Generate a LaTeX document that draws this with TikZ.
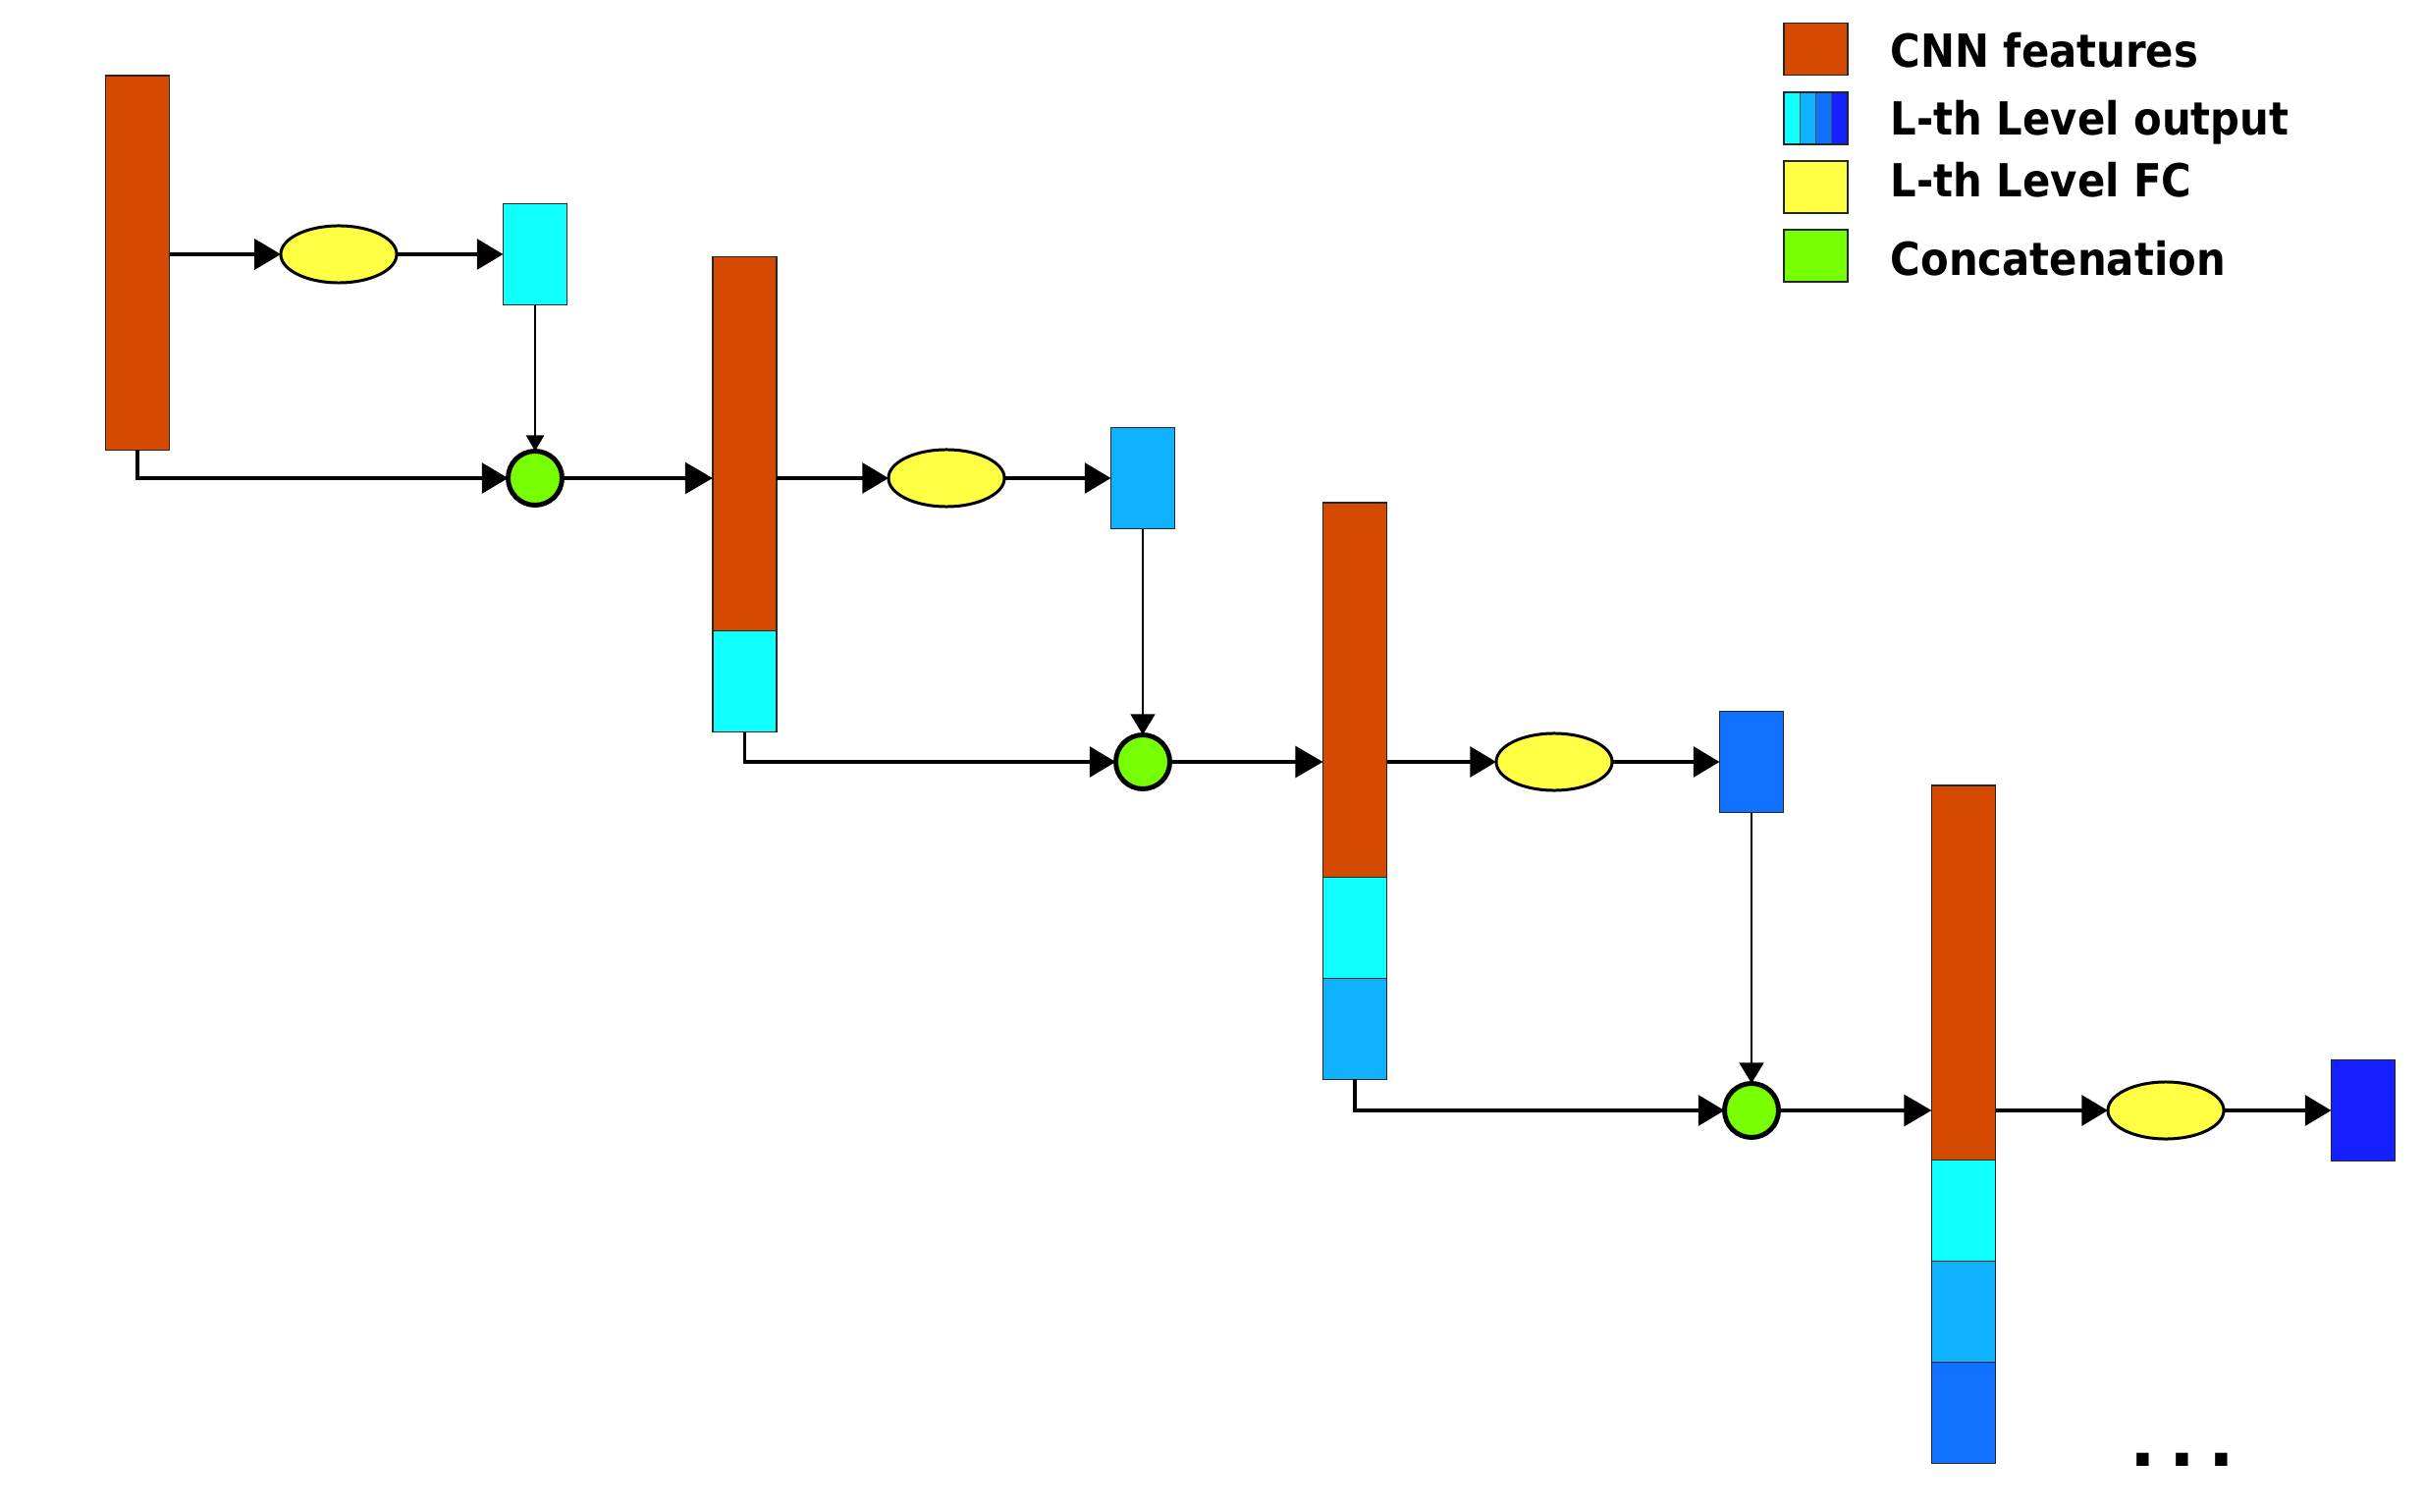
\documentclass[tikz,border=0pt]{standalone}
\usepackage{fontspec}
\newfontfamily\legfont{DejaVu Sans}[FakeStretch=0.9]
\newfontfamily\dotfont{DejaVu Sans}
\usetikzlibrary{arrows.meta,shapes.geometric}
\definecolor{orangeC}{HTML}{D34A00}
\definecolor{cyanC}{HTML}{10FFFF}
\definecolor{lblueC}{HTML}{10B2FF}
\definecolor{mblueC}{HTML}{1070FF}
\definecolor{dblueC}{HTML}{1420FF}
\definecolor{yellowC}{HTML}{FFFF44}
\definecolor{greenC}{HTML}{75FF00}
\tikzset{
  blk/.style={draw=black!85, line width=0.35pt, inner sep=0pt, outer sep=0pt, minimum width=0.65cm},
  feat/.style={blk, fill=orangeC, minimum height=3.81cm},
  seg/.style={blk, minimum height=1.03cm},
  fc/.style={ellipse, draw=black, line width=0.85pt, fill=yellowC, minimum width=1.18cm, minimum height=0.58cm, inner sep=0pt, outer sep=0pt},
  cat/.style={circle, draw=black, line width=1.4pt, fill=greenC, minimum size=0.55cm, inner sep=0pt, outer sep=0pt},
  harrow/.style={line width=1pt, -{Triangle[length=7.6pt,width=8.8pt]}},
  carrow/.style={line width=1.15pt, -{Triangle[length=8pt,width=9pt]}},
  varrowA/.style={line width=0.65pt, -{Triangle[length=4.6pt,width=5.2pt]}},
  varrow/.style={line width=0.8pt, -{Triangle[length=6pt,width=7pt]}},
  legbox/.style={draw=black!85, line width=0.35pt, inner sep=0pt, outer sep=0pt, minimum width=0.65cm, minimum height=0.53cm},
  legtext/.style={anchor=base west, inner sep=0pt, font=\fontsize{13.2pt}{15pt}\selectfont\legfont\bfseries},
}
\begin{document}
\begin{tikzpicture}[x=0.01cm, y=-0.01cm]
\useasboundingbox (0,0) rectangle (2470,1540);
% ---------- level 1
\node[feat, anchor=north] (b1) at (140,77) {};
\node[fc] (e1) at (345,259) {};
\node[seg, fill=cyanC] (o1) at (545,259) {};
\node[cat] (c1) at (545,487) {};
% ---------- level 2
\node[feat, anchor=north] (b2) at (758.5,261.5) {};
\node[seg, fill=cyanC, anchor=north] (b2c) at (b2.south) {};
\node[fc] (e2) at (964,487) {};
\node[seg, fill=lblueC] (o2) at (1164,487) {};
\node[cat] (c2) at (1164,776) {};
% ---------- level 3
\node[feat, anchor=north] (b3) at (1380,512) {};
\node[seg, fill=cyanC, anchor=north] (b3c) at (b3.south) {};
\node[seg, fill=lblueC, anchor=north] (b3l) at (b3c.south) {};
\node[fc] (e3) at (1583,776) {};
\node[seg, fill=mblueC] (o3) at (1784,776) {};
\node[cat] (c3) at (1784,1131) {};
% ---------- level 4
\node[feat, anchor=north] (b4) at (2000,800) {};
\node[seg, fill=cyanC, anchor=north] (b4c) at (b4.south) {};
\node[seg, fill=lblueC, anchor=north] (b4l) at (b4c.south) {};
\node[seg, fill=mblueC, anchor=north] (b4m) at (b4l.south) {};
\node[fc] (e4) at (2206,1131) {};
\node[seg, fill=dblueC] (o4) at (2407,1131) {};
% ---------- connectors
\draw[harrow] (b1.east |- e1) -- (e1);
\draw[harrow] (e1) -- (o1);
\draw[varrowA] (o1) -- (c1);
\draw[harrow] (b1.south) |- (c1);
\draw[carrow] (c1) -- (c1 -| b2.west);
\draw[harrow] (b2.east |- e2) -- (e2);
\draw[harrow] (e2) -- (o2);
\draw[varrow] (o2) -- (c2);
\draw[harrow] (b2c.south) |- (c2);
\draw[carrow] (c2) -- (c2 -| b3.west);
\draw[harrow] (b3.east |- e3) -- (e3);
\draw[harrow] (e3) -- (o3);
\draw[varrow] (o3) -- (c3);
\draw[harrow] (b3l.south) |- (c3);
\draw[carrow] (c3) -- (c3 -| b4.west);
\draw[harrow] (b4.east |- e4) -- (e4);
\draw[harrow] (e4) -- (o4);
% ---------- dots
\node[anchor=base, inner sep=0pt, font=\fontsize{20pt}{24pt}\selectfont\dotfont\bfseries] (dots) at (2223,1493) {.\hspace{0.134cm}.\hspace{0.134cm}.};
% ---------- legend
\node[legbox, fill=orangeC] (l1) at (1849.5,50) {};
\node[legbox] (l2) at (1849.5,120.5) {};
\fill[cyanC]  (l2.north west) rectangle ([xshift=0.1625cm]l2.south west);
\fill[lblueC] ([xshift=0.1625cm]l2.north west) rectangle ([xshift=0.325cm]l2.south west);
\fill[mblueC] ([xshift=0.325cm]l2.north west) rectangle ([xshift=0.4875cm]l2.south west);
\fill[dblueC] ([xshift=0.4875cm]l2.north west) rectangle (l2.south east);
\draw[black!70, line width=0.3pt] ([xshift=0.1625cm]l2.north west) -- ([xshift=0.1625cm]l2.south west)
  ([xshift=0.325cm]l2.north west) -- ([xshift=0.325cm]l2.south west)
  ([xshift=0.4875cm]l2.north west) -- ([xshift=0.4875cm]l2.south west);
\draw[black!85, line width=0.35pt] (l2.north west) rectangle (l2.south east);
\node[legbox, fill=yellowC] (l3) at (1849.5,190.5) {};
\node[legbox, fill=greenC] (l4) at (1849.5,260.5) {};
\node[legtext] (t1) at (1925,69) {CNN features};
\node[legtext] (t2) at (1925,138) {L-th Level output};
\node[legtext] (t3) at (1925,201) {L-th Level FC};
\node[legtext] (t4) at (1925,281) {Concatenation};
\end{tikzpicture}
\end{document}
